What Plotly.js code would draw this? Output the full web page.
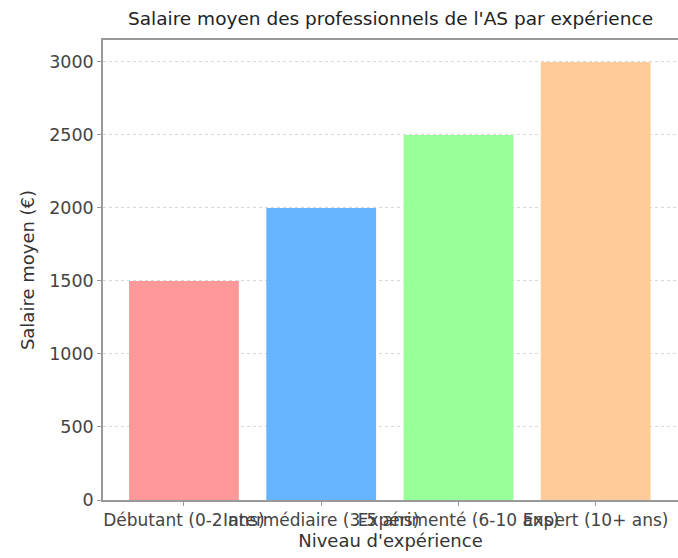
<!DOCTYPE html>
<html><head><meta charset="utf-8">
<script src="https://cdn.plot.ly/plotly-3.0.1.min.js"></script>
<style>body{margin:0;padding:0;background:#fff}#chart{width:678px;height:558px}</style>
</head><body><div id="chart"></div>
<script>
const categories = ["Débutant (0-2 ans)", "Intermédiaire (3-5 ans)", "Expérimenté (6-10 ans)", "Expert (10+ ans)"];
const salaries = [1500, 2000, 2500, 3000];
const barColors = ["#ff9999", "#66b3ff", "#99ff99", "#ffcc99"];
const yTicks = [0, 500, 1000, 1500, 2000, 2500, 3000];

const font = "DejaVu Sans, sans-serif";
Plotly.newPlot("chart", [{
  type: "bar",
  x: categories,
  y: salaries,
  marker: {color: barColors},
  width: 0.8,
  hoverinfo: "x+y"
}], {
  width: 678, height: 558,
  margin: {l: 103, r: 0, t: 40, b: 58},
  paper_bgcolor: "#fff", plot_bgcolor: "#fff",
  font: {family: font, color: "#333", size: 16},
  title: {text: "Salaire moyen des professionnels de l'AS par expérience", font: {size: 18.5, color: "#222"}, x: 0.5, xref: "paper", xanchor: "center", y: 0.967, yanchor: "middle"},
  xaxis: {
    type: "category", range: [-0.59, 3.6], tickangle: 0, automargin: false,
    showline: true, mirror: true, linecolor: "#999", linewidth: 1.5,
    ticks: "outside", ticklen: 4, tickcolor: "#999",
    showgrid: false, tickfont: {size: 17, color: "#444"},
    title: {text: "Niveau d'expérience", font: {size: 18, color: "#333"}, standoff: 0}
  },
  yaxis: {
    range: [0, 3150], tickvals: yTicks, automargin: false,
    showline: true, mirror: true, linecolor: "#999", linewidth: 1.5,
    ticks: "outside", ticklen: 4, tickcolor: "#999",
    showgrid: true, gridcolor: "#d8d8d8", griddash: "dot", gridwidth: 1,
    zeroline: false, tickfont: {size: 17.5, color: "#444"},
    title: {text: "Salaire moyen (€)", font: {size: 18, color: "#333"}, standoff: 10}
  },
  showlegend: false
}, {displayModeBar: false});
</script></body></html>
